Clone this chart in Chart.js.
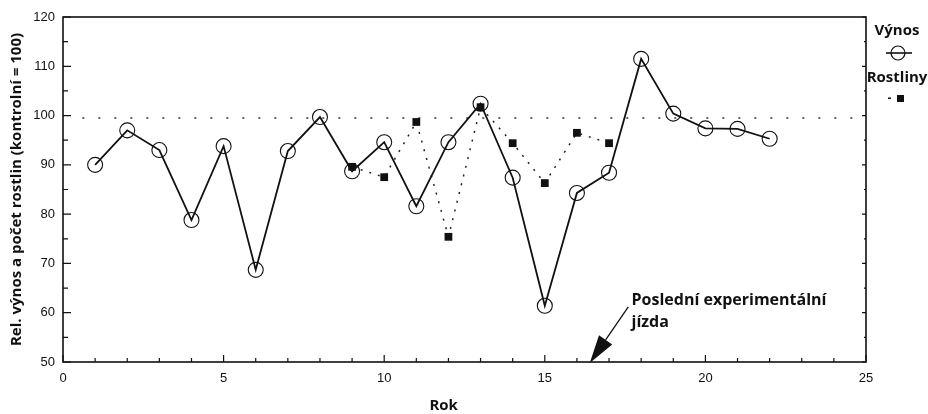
<!DOCTYPE html>
<html>
<head>
<meta charset="utf-8">
<script src="https://cdn.jsdelivr.net/npm/chart.js@4.4.1/dist/chart.umd.min.js"></script>
<style>
  html, body { margin: 0; padding: 0; background: #fff; }
  canvas { display: block; }
</style>
</head>
<body>
<canvas id="chart" width="928" height="414"></canvas>
<script>
// Rok (year) and relative values
const years = [1, 2, 3, 4, 5, 6, 7, 8, 9, 10, 11, 12, 13, 14, 15, 16, 17, 18, 19, 20, 21, 22];
const vynos = [90, 97, 93, 78.8, 93.8, 68.7, 92.8, 99.7, 88.7, 94.6, 81.6, 94.6, 102.4, 87.4, 61.4, 84.3, 88.4, 111.5, 100.4, 97.4, 97.3, 95.3];
const plantYears = [9, 10, 11, 12, 13, 14, 15, 16, 17];
const rostliny = [89.6, 87.5, 98.7, 75.4, 101.7, 94.4, 86.3, 96.5, 94.4];
const controlLine = [{ x: 0.6, y: 99.5 }, { x: 25, y: 99.5 }];
const xTicks = [0, 5, 10, 15, 20, 25];
const yTicks = [50, 60, 70, 80, 90, 100, 110, 120];

// annotation for the last experimental drive (data coordinates)
const noteLines = ["Poslední experimentální", "jízda"];
const noteAt = { x: 17.7, y: 62.5 };
const arrowFrom = { x: 17.6, y: 61.2 };
const arrowTo = { x: 16.4, y: 49.8 };
const xTitle = "Rok";
const xTitleAt = 11.85;

const titleFont = { family: "'Open Sans', sans-serif", size: 15, weight: "bold" };
const tickFont = { family: "'Liberation Sans', Arial, sans-serif", size: 13 };

const framePlugin = {
  id: "frame",
  afterDraw(chart) {
    const { ctx, chartArea: a, scales: { x, y } } = chart;
    ctx.save();
    ctx.strokeStyle = "#111";
    ctx.lineWidth = 1.6;
    ctx.strokeRect(a.left, a.top, a.right - a.left, a.bottom - a.top);

    // inward ticks
    ctx.lineWidth = 1.2;
    ctx.beginPath();
    for (let v = 50; v <= 120; v += 5) {
      const py = y.getPixelForValue(v);
      const len = v % 10 === 0 ? 8 : 5;
      ctx.moveTo(a.left, py); ctx.lineTo(a.left + len, py);
      ctx.moveTo(a.right, py); ctx.lineTo(a.right - (v % 10 === 0 ? 4 : 2), py);
    }
    for (let v = 0; v <= 25; v += 1) {
      const px = x.getPixelForValue(v);
      const len = v % 5 === 0 ? 7 : 4;
      ctx.moveTo(px, a.bottom); ctx.lineTo(px, a.bottom - len);
    }
    ctx.stroke();

    ctx.fillStyle = "#111";
    ctx.textBaseline = "middle";

    // x axis title (sits left of centre in the original)
    ctx.font = "bold 15px 'Open Sans', sans-serif";
    ctx.textAlign = "center";
    ctx.fillText(xTitle, x.getPixelForValue(xTitleAt), 406);

    // annotation
    ctx.font = "bold 16px 'Open Sans', sans-serif";
    ctx.textAlign = "left";
    const nx = x.getPixelForValue(noteAt.x), ny = y.getPixelForValue(noteAt.y);
    noteLines.forEach((t, i) => ctx.fillText(t, nx, ny + i * 22));

    const fx = x.getPixelForValue(arrowFrom.x), fy = y.getPixelForValue(arrowFrom.y);
    const tx = x.getPixelForValue(arrowTo.x), ty = y.getPixelForValue(arrowTo.y);
    const ang = Math.atan2(ty - fy, tx - fx);
    const headLen = 28, headW = 8;
    const bx = tx - headLen * Math.cos(ang), by = ty - headLen * Math.sin(ang);
    ctx.lineWidth = 1.3;
    ctx.beginPath(); ctx.moveTo(fx, fy); ctx.lineTo(bx, by); ctx.stroke();
    ctx.beginPath();
    ctx.moveTo(tx, ty);
    ctx.lineTo(bx + headW * Math.sin(ang), by - headW * Math.cos(ang));
    ctx.lineTo(bx - headW * Math.sin(ang), by + headW * Math.cos(ang));
    ctx.closePath(); ctx.fill();

    // legend on the right
    const lx = a.right + 32;
    ctx.textAlign = "center";
    ctx.font = "bold 15px 'Open Sans', sans-serif";
    ctx.fillText("Výnos", lx - 1, 31);
    ctx.lineWidth = 1.6;
    ctx.beginPath(); ctx.moveTo(lx - 12, 53); ctx.lineTo(lx + 14, 53); ctx.stroke();
    ctx.lineWidth = 1.2;
    ctx.beginPath(); ctx.arc(lx, 53, 7, 0, Math.PI * 2); ctx.stroke();
    ctx.fillText("Rostliny", lx - 1, 78);
    ctx.fillRect(lx - 10, 97.5, 3, 1.5);
    ctx.fillRect(lx - 1, 95, 7, 7);
    ctx.restore();
  }
};

new Chart(document.getElementById("chart"), {
  type: "line",
  data: {
    datasets: [
      {
        label: "Výnos",
        data: years.map((yr, i) => ({ x: yr, y: vynos[i] })),
        borderColor: "#111",
        borderWidth: 1.8,
        pointRadius: 7.5,
        pointBorderWidth: 1.1,
        pointBorderColor: "#111",
        pointBackgroundColor: "rgba(0,0,0,0)",
        tension: 0
      },
      {
        label: "Rostliny",
        data: plantYears.map((yr, i) => ({ x: yr, y: rostliny[i] })),
        borderColor: "#222",
        borderWidth: 1.5,
        borderDash: [2, 7],
        pointStyle: "rect",
        pointRadius: 5.5,
        pointBorderWidth: 0,
        pointBackgroundColor: "#111",
        tension: 0
      },
      {
        label: "kontrolní",
        data: controlLine,
        borderColor: "#333",
        borderWidth: 1.5,
        borderDash: [2, 14],
        pointRadius: 0
      }
    ]
  },
  options: {
    responsive: false,
    animation: false,
    devicePixelRatio: 1,
    layout: { padding: { top: 17, right: 62, left: 0, bottom: 0 } },
    plugins: { legend: { display: false }, tooltip: { enabled: false } },
    scales: {
      x: {
        type: "linear",
        min: 0,
        max: 25,
        afterFit(s) { s.height = 52; },
        afterBuildTicks(s) { s.ticks = xTicks.map((v) => ({ value: v })); },
        grid: { display: false, drawTicks: false },
        border: { display: false },
        ticks: { color: "#111", font: tickFont, padding: 9, maxRotation: 0, autoSkip: false },
        title: { display: false }
      },
      y: {
        type: "linear",
        min: 50,
        max: 120,
        afterFit(s) { s.width = 63; },
        afterBuildTicks(s) { s.ticks = yTicks.map((v) => ({ value: v })); },
        grid: { display: false, drawTicks: false },
        border: { display: false },
        ticks: { color: "#111", font: tickFont, padding: 8 },
        title: { display: true, text: "Rel. výnos a počet rostlin (kontrolní = 100)", color: "#111", font: titleFont, padding: { top: 8, bottom: 0 } }
      }
    }
  },
  plugins: [framePlugin]
});
</script>
</body>
</html>
